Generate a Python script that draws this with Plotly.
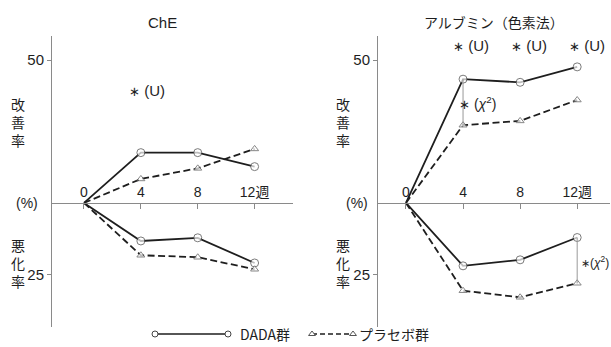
import plotly.graph_objects as go

# Weeks of observation
weeks = [0, 4, 8, 12]

# ChE: improvement / worsening rate (%)
che_dada_improve = [0, 17.6, 17.6, 12.7]
che_placebo_improve = [0, 8.4, 12.1, 18.9]
che_dada_worse = [0, 13.3, 12.2, 21.0]
che_placebo_worse = [0, 18.3, 19.0, 23.2]

# Albumin (dye method): improvement / worsening rate (%)
alb_dada_improve = [0, 43.3, 42.2, 47.6]
alb_placebo_improve = [0, 27.2, 28.7, 36.0]
alb_dada_worse = [0, 22.0, 19.9, 12.1]
alb_placebo_worse = [0, 30.7, 33.0, 28.1]

week_labels = ["0", "4", "8", "12週"]
y_tick_vals = [50, -25]
y_tick_text = ["50", "25"]

W, H = 611, 347
FONT = "Liberation Sans, Noto Sans CJK JP, sans-serif"
JP = "Noto Sans CJK JP, sans-serif"
AXIS_GREY = "#8a8a8a"
INK = "#1e1e1e"
DASH = "7px,3.5px"

Y_RANGE = [-43.4, 58.4]
Y_DOMAIN = [1 - 327 / H, 1 - 36 / H]
zero_pos = Y_DOMAIN[0] + (0 - Y_RANGE[0]) / (Y_RANGE[1] - Y_RANGE[0]) * (Y_DOMAIN[1] - Y_DOMAIN[0])

fig = go.Figure()


def add_panel(xa, ya, dada_up, plac_up, dada_dn, plac_dn):
    neg = lambda v: [-a for a in v]
    common = dict(xaxis=xa, yaxis=ya, showlegend=False, hoverinfo="skip", cliponaxis=False)
    for y, solid, sym in [
        (dada_up, True, "circle"),
        (neg(dada_dn), True, "circle"),
        (plac_up, False, "triangle-up"),
        (neg(plac_dn), False, "triangle-up"),
    ]:
        size = [0, 8, 8, 8] if solid else [0, 7, 7, 7]
        fig.add_trace(go.Scatter(
            x=weeks, y=y, mode="lines+markers",
            line=dict(color=INK, width=1.8, dash="solid" if solid else DASH),
            marker=dict(symbol=sym, size=size, color="white",
                        line=dict(color="#444" if solid else "#555", width=1)),
            **common))


add_panel("x", "y", che_dada_improve, che_placebo_improve, che_dada_worse, che_placebo_worse)
add_panel("x2", "y2", alb_dada_improve, alb_placebo_improve, alb_dada_worse, alb_placebo_worse)

# Legend glyphs on a full-figure overlay axis
leg_dada_x = [155, 228]
leg_plac_x = [312, 353]
leg_y = [334, 334]
fig.add_trace(go.Scatter(x=leg_dada_x, y=leg_y, xaxis="x3", yaxis="y3", mode="lines+markers",
                         line=dict(color=INK, width=1.6),
                         marker=dict(symbol="circle", size=6, color="white", line=dict(color="#444", width=1)),
                         showlegend=False, hoverinfo="skip"))
fig.add_trace(go.Scatter(x=leg_plac_x, y=leg_y, xaxis="x3", yaxis="y3", mode="lines+markers",
                         line=dict(color=INK, width=1.6, dash="5px,3px"),
                         marker=dict(symbol="triangle-up", size=6, color="white", line=dict(color="#555", width=1)),
                         showlegend=False, hoverinfo="skip"))

xaxis_common = dict(
    tickvals=weeks, ticktext=week_labels, side="top", ticks="inside", ticklen=5,
    tickcolor=AXIS_GREY, showline=True, linecolor=AXIS_GREY, linewidth=1,
    showgrid=False, zeroline=False, anchor="free", position=zero_pos,
    tickfont=dict(family=FONT, size=14, color=INK), fixedrange=True,
)
yaxis_common = dict(
    range=Y_RANGE, domain=Y_DOMAIN, tickvals=y_tick_vals, ticktext=y_tick_text,
    ticks="outside", ticklen=4, tickcolor=AXIS_GREY, showline=True, linecolor=AXIS_GREY,
    linewidth=1, showgrid=False, zeroline=False,
    tickfont=dict(family=FONT, size=15, color=INK), fixedrange=True,
)

fig.update_layout(
    width=W, height=H, margin=dict(l=0, r=0, t=0, b=0),
    paper_bgcolor="white", plot_bgcolor="rgba(0,0,0,0)",
    xaxis=dict(domain=[52 / W, 293 / W], range=[-2.25, 14.7], **xaxis_common),
    yaxis=dict(anchor="x", **yaxis_common),
    xaxis2=dict(domain=[378 / W, 610 / W], range=[-1.96, 14.3], **xaxis_common),
    yaxis2=dict(anchor="x2", **yaxis_common),
    xaxis3=dict(domain=[0, 1], range=[0, W], visible=False, fixedrange=True),
    yaxis3=dict(domain=[0, 1], range=[H, 0], visible=False, fixedrange=True, anchor="x3"),
)

# Significance brackets between groups
fig.add_shape(type="line", xref="x2", yref="y2", x0=weeks[1], x1=weeks[1],
              y0=alb_dada_improve[1], y1=alb_placebo_improve[1], line=dict(color="#999", width=1))
fig.add_shape(type="line", xref="x2", yref="y2", x0=weeks[3], x1=weeks[3],
              y0=-alb_dada_worse[3], y1=-alb_placebo_worse[3], line=dict(color="#999", width=1))

ann = []


def txt(x, y, text, xref="paper", yref="paper", size=14, xanchor="center", family=JP):
    ann.append(dict(x=x, y=y, xref=xref, yref=yref, text=text, showarrow=False,
                    xanchor=xanchor, yanchor="middle",
                    font=dict(family=family, size=size, color=INK)))


STAR = '<span style="font-size:13px">∗</span>'
STAR_SMALL = '<span style="font-size:11px">∗</span>'

# Titles
txt(162 / W, 1 - 22 / H, "ChE", family=FONT, size=15)
txt(494 / W, 1 - 22 / H, "アルブミン（色素法）", size=14)

# Vertical axis captions
for cx in (18, 343):
    txt(cx / W, 1 - 122 / H, "改<br>善<br>率", size=14)
    txt(cx / W, 1 - 263 / H, "悪<br>化<br>率", size=14)
txt(27 / W, zero_pos, "(%)", family=FONT, size=14)
txt(357 / W, zero_pos, "(%)", family=FONT, size=14)

# Significance marks
txt(4.4, 39.5, STAR + " (U)", xref="x", yref="y", family=FONT, size=15)
for wx in (4.56, 8.63, 12.7):
    txt(wx, 55.2, STAR + " (U)", xref="x2", yref="y2", family=FONT, size=15)
txt(5.0, 35.0, STAR + " (<i>χ</i><sup>2</sup>)", xref="x2", yref="y2", family=FONT, size=14)
txt(12.1, -20.6, STAR_SMALL + "(<i>χ</i><sup>2</sup>)", xref="x2", yref="y2", family=FONT, size=12, xanchor="left")

# Legend labels
txt(238 / W, 1 - 334 / H, "DADA群", size=14, xanchor="left")
txt(357 / W, 1 - 334 / H, "プラセボ群", size=14, xanchor="left")

fig.update_layout(annotations=ann)
fig.write_html("out.html")
